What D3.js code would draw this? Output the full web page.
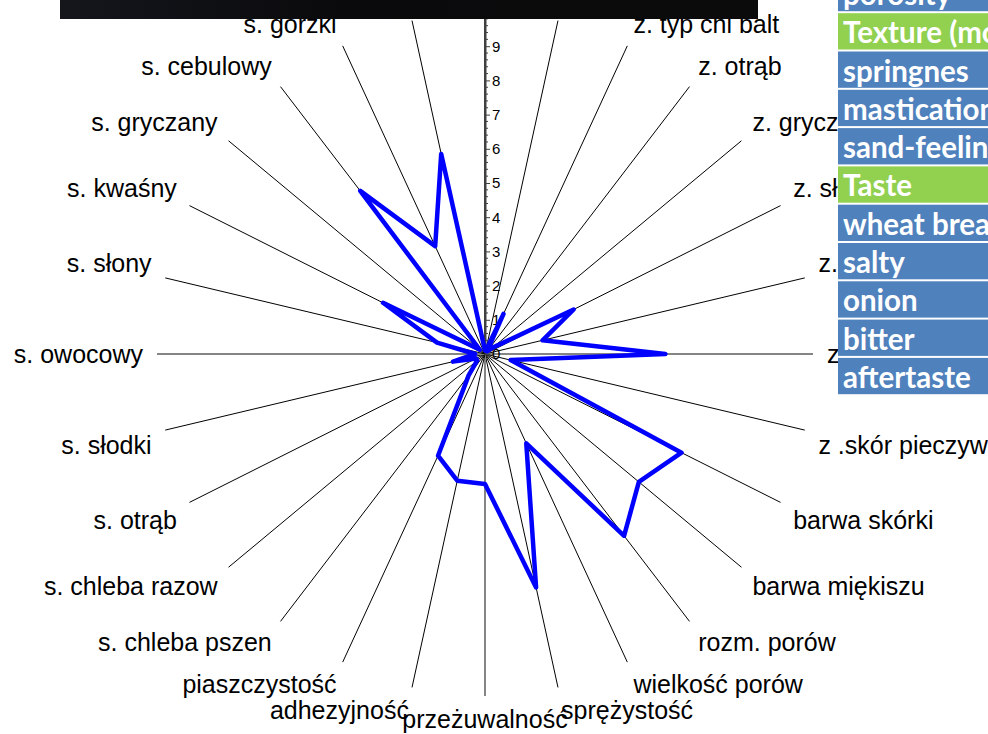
<!DOCTYPE html>
<html><head><meta charset="utf-8">
<script src="https://cdn.jsdelivr.net/npm/d3@7"></script>
<style>html,body{margin:0;padding:0;background:#fff;overflow:hidden}</style>
</head><body>
<svg id="c" width="988" height="734"></svg>
<script>
const categories = [
  "z. chleba pszen", "z. chleba razow", "z. typ chl balt", "z. otrąb", "z. gryczany",
  "z. słodki", "z. owocowy", "z. kwaśny", "z .skór pieczyw", "barwa skórki",
  "barwa miękiszu", "rozm. porów", "wielkość porów", "sprężystość", "przeżuwalność",
  "adhezyjność", "piaszczystość", "s. chleba pszen", "s. chleba razow", "s. otrąb",
  "s. słodki", "s. owocowy", "s. słony", "s. kwaśny", "s. gryczany",
  "s. cebulowy", "s. gorzki", "posmak"
];
const values = [
  0.1, 0.1, 1.3, 0.1, 0.3,
  3.0, 1.8, 5.5, 0.8, 6.65,
  6.0, 6.8, 2.9, 7.0, 3.8,
  3.8, 3.3, 0.8, 0.3, 0.3,
  1.0, 0.3, 1.5, 3.45, 0.2,
  6.1, 3.5, 6.0
];
const valueTicks = [0, 1, 2, 3, 4, 5, 6, 7, 8, 9, 10];
const legendLabels = ["porosity", "Texture (mouthfeel)", "springnes", "mastication", "sand-feeling",
  "Taste", "wheat bread", "salty", "onion", "bitter", "aftertaste"];
const legendIsHeader = [false, true, false, false, false, true, false, false, false, false, false];

const svg = d3.select("#c");
const cx = 485, cy = 354;
const rX = d3.scaleLinear().domain([0, 10]).range([0, 328]);
const rY = d3.scaleLinear().domain([0, 10]).range([0, 342]);
const yAxisScale = d3.scaleLinear().domain([0, 10]).range([cy, cy - 342]);
const n = categories.length;
const ang = d3.scaleLinear().domain([0, n]).range([0, 2 * Math.PI]);
const px = (i, v) => cx + rX(v) * Math.sin(ang(i));
const py = (i, v) => cy - rY(v) * Math.cos(ang(i));

// spokes
const g = svg.append("g");
g.selectAll("line.spoke").data(categories).join("line")
  .attr("class", "spoke")
  .attr("x1", cx).attr("y1", cy)
  .attr("x2", (d, i) => px(i, 10)).attr("y2", (d, i) => py(i, 10))
  .attr("stroke", (d, i) => (i % 7 === 0) ? (i === 0 ? "#404040" : "#858585") : "#000")
  .attr("stroke-width", (d, i) => (i % 7 === 0) ? 2 : 1);

// value axis
const axis = d3.axisRight(yAxisScale).tickValues(valueTicks).tickSize(5).tickPadding(2)
  .tickFormat(d3.format("d"));
const ag = svg.append("g").attr("transform", `translate(${cx},0)`).call(axis);
ag.select(".domain").attr("stroke", "#404040").attr("stroke-width", 2);
ag.selectAll(".tick line").attr("stroke", "#404040");
ag.selectAll(".tick text").attr("font-family", "Liberation Sans, Arial, sans-serif")
  .attr("font-size", 15).attr("fill", "#000");
const minor = d3.range(0, 10, 0.2).filter(v => Math.abs(v - Math.round(v)) > 1e-6);
ag.selectAll("line.minor").data(minor).join("line").attr("class", "minor")
  .attr("x1", 0).attr("x2", 3).attr("y1", d => yAxisScale(d)).attr("y2", d => yAxisScale(d))
  .attr("stroke", "#404040").attr("stroke-width", 1);

// data line
const line = d3.line().x(d => px(d.i, d.v)).y(d => py(d.i, d.v)).curve(d3.curveLinearClosed);
svg.append("path")
  .datum(values.map((v, i) => ({ i, v })))
  .attr("d", line)
  .attr("fill", "none").attr("stroke", "#0000ff").attr("stroke-width", 4.5)
  .attr("stroke-linejoin", "round");

// category labels (those that would sit above the canvas top are not drawn)
const labelPos = categories.map((d, i) => {
  const c = Math.cos(ang(i)), s = Math.sin(ang(i));
  const x = cx + (rX(10) + 14) * s;
  const y = cy - (rY(10) + 10) * c + (Math.abs(c) < 0.01 ? 0 : (c > 0 ? -13 : 13));
  const anchor = Math.abs(s) < 0.01 ? "middle" : (s > 0 ? "start" : "end");
  return { d, x, y, anchor };
}).filter(p => p.y > 12);
svg.append("g").selectAll("text").data(labelPos).join("text")
  .attr("x", p => p.x).attr("y", p => p.y)
  .attr("text-anchor", p => p.anchor)
  .attr("dominant-baseline", "central")
  .attr("font-family", "Liberation Sans, Arial, sans-serif")
  .attr("font-size", 25).attr("fill", "#000")
  .text(p => p.d);

// black bar overlay at top
const grad = svg.append("defs").append("linearGradient").attr("id", "bar");
grad.append("stop").attr("offset", "0%").attr("stop-color", "#14161c");
grad.append("stop").attr("offset", "40%").attr("stop-color", "#0a0a0c");
grad.append("stop").attr("offset", "100%").attr("stop-color", "#0b0b0b");
svg.append("rect").attr("x", 60).attr("y", 0).attr("width", 698).attr("height", 19)
  .attr("fill", "url(#bar)");

// legend-like list on the right
const rowY = d3.scaleLinear().domain([0, 1]).range([-26.6, 11.7]);
const lg = svg.append("g");
lg.append("rect").attr("x", 838).attr("y", 0).attr("width", 150).attr("height", rowY(legendLabels.length) + 1.5)
  .attr("fill", "#fff");
legendLabels.forEach((lab, k) => {
  const y0 = rowY(k);
  lg.append("rect").attr("x", 838).attr("y", y0 + 1.5).attr("width", 160).attr("height", 36.3)
    .attr("fill", legendIsHeader[k] ? "#92d050" : "#4f81bd");
  lg.append("text").attr("x", 843).attr("y", y0 + 31.5)
    .attr("font-family", "Lato, 'Open Sans', sans-serif").attr("font-weight", "bold")
    .attr("font-size", 29.5).attr("fill", "#fff").text(lab);
});
</script>
</body></html>
